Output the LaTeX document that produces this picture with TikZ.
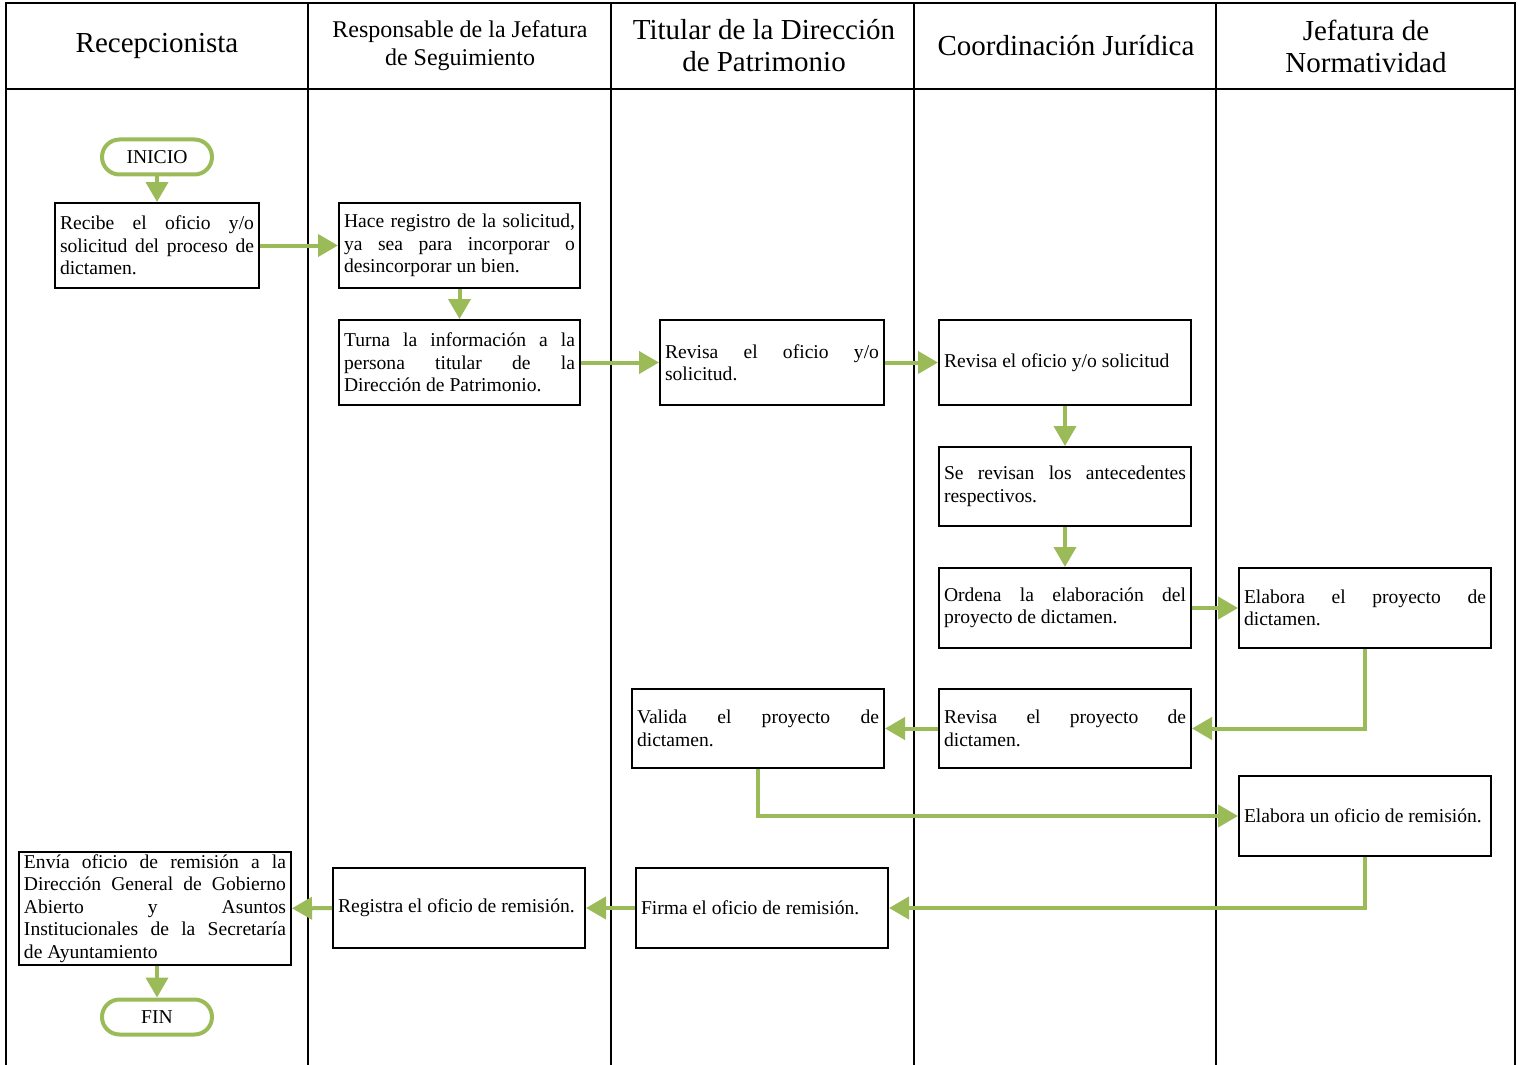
\documentclass[tikz,border=0pt]{standalone}
\usepackage{fontspec}
\setmainfont{Liberation Serif}
\usetikzlibrary{positioning,arrows.meta}
\definecolor{verde}{RGB}{155,187,89}
\hyphenpenalty=10000
\tolerance=10000
\hbadness=10000
\tikzset {
    style A/.style={
        draw=black,
        line width=1pt,
        rectangle, % caja de proceso
        inner xsep=2.5pt,
        inner ysep=0pt,
        minimum height=40pt,
        align=justify,
        font=\fontsize{9.8}{11.25}\selectfont,
    },
    style B/.style={
        draw=verde,
        line width=2pt,
        rectangle, % inicio / fin
        rounded corners=8.75pt,
        minimum width=55pt,
        minimum height=17.5pt,
        align=center,
        font=\fontsize{9.8}{11.25}\selectfont,
    },
    style C/.style={
        draw=none,
        align=center,
        font=\fontsize{14.5}{16}\selectfont,
    },
    style F/.style={
        draw=verde,
        line width=2pt,
        -{Triangle[length=10pt,width=11pt]},
    },
}
\begin{document}
\begin{tikzpicture}
[x=0.5pt, y=-0.5pt]
\useasboundingbox (0,0) rectangle (1521,1065);

% carriles
\draw[line width=0.75pt] (6,1065) -- (6,3) -- (1515,3) -- (1515,1065);
\draw[line width=0.75pt] (6,89) -- (1515,89);
\foreach \x in {308,611,914,1216}
  \draw[line width=0.75pt] (\x,3) -- (\x,1065);

\node[style C] at (157, 46) (hRecep) {Recepcionista};
\node[style C, font=\fontsize{12}{14}\selectfont] at (460, 46) (hResp) {Responsable de la Jefatura\\de Seguimiento};
\node[style C] at (764, 46) (hTitular) {Titular de la Dirección\\de Patrimonio};
\node[style C] at (1066, 46) (hCoord) {Coordinación Jurídica};
\node[style C] at (1366, 46) (hNorma) {Jefatura de\\Normatividad};

\node[style B] at (157, 157) (inicio) {INICIO};
\node[style A, text width=97pt, minimum height=42.5pt] at (157, 245.5) (recibe) {Recibe el oficio y/o solicitud del proceso de dictamen.};
\node[style A, text width=115.5pt, minimum height=42.5pt] at (459.5, 245.5) (registro) {Hace registro de la solicitud, ya sea para incorporar o desincorporar un bien.};
\node[style A, text width=115.5pt, minimum height=42.5pt] at (459.5, 362.5) (turna) {Turna la información a la\linebreak persona titular de la\linebreak Dirección de Patrimonio.};
\node[style A, text width=107pt, minimum height=42.5pt] at (772, 362.5) (revisaT) {Revisa el oficio y/o\linebreak solicitud.};
\node[style A, text width=121pt, minimum height=42.5pt] at (1065, 362.5) (revisaC) {Revisa el oficio y/o solicitud};
\node[style A, text width=121pt, minimum height=39.5pt] at (1065, 486.5) (antec) {Se revisan los antecedentes respectivos.};
\node[style A, text width=121pt] at (1065, 608) (ordena) {Ordena la elaboración del proyecto de dictamen.};
\node[style A, text width=121pt] at (1365, 608) (elabora) {Elabora el proyecto de\linebreak dictamen.};
\node[style A, text width=121pt, minimum height=39.5pt] at (1065, 728.5) (revisaP) {Revisa el proyecto de\linebreak dictamen.};
\node[style A, text width=121pt, minimum height=39.5pt] at (758, 728.5) (valida) {Valida el proyecto de\linebreak dictamen.};
\node[style A, text width=121pt] at (1365, 816) (remision) {Elabora un oficio de remisión.};
\node[style A, text width=121pt] at (762, 908) (firma) {Firma el oficio de remisión.};
\node[style A, text width=121pt] at (459, 908) (registra) {Registra el oficio de remisión.};
\node[style A, text width=131pt, minimum height=56.5pt] at (155, 908.5) (envia) {Envía oficio de remisión a la\linebreak Dirección General de Gobierno\linebreak Abierto y Asuntos\linebreak Institucionales de la Secretaría\linebreak de Ayuntamiento};
\node[style B] at (157, 1017) (fin) {FIN};

\draw[style F] (inicio) -- (recibe);
\draw[style F] (recibe) -- (registro);
\draw[style F] (registro) -- (turna);
\draw[style F] (turna) -- (revisaT);
\draw[style F] (revisaT) -- (revisaC);
\draw[style F] (revisaC) -- (antec);
\draw[style F] (antec) -- (ordena);
\draw[style F] (ordena) -- (elabora);
\draw[style F] (elabora.south) |- (revisaP.east);
\draw[style F] (revisaP) -- (valida);
\draw[style F] (valida.south) |- (remision.west);
\draw[style F] (remision.south) |- (firma.east);
\draw[style F] (firma) -- (registra);
\draw[style F] (registra) -- (envia);
\draw[style F] (envia.south -| fin) -- (fin);
\end{tikzpicture}
\end{document}
